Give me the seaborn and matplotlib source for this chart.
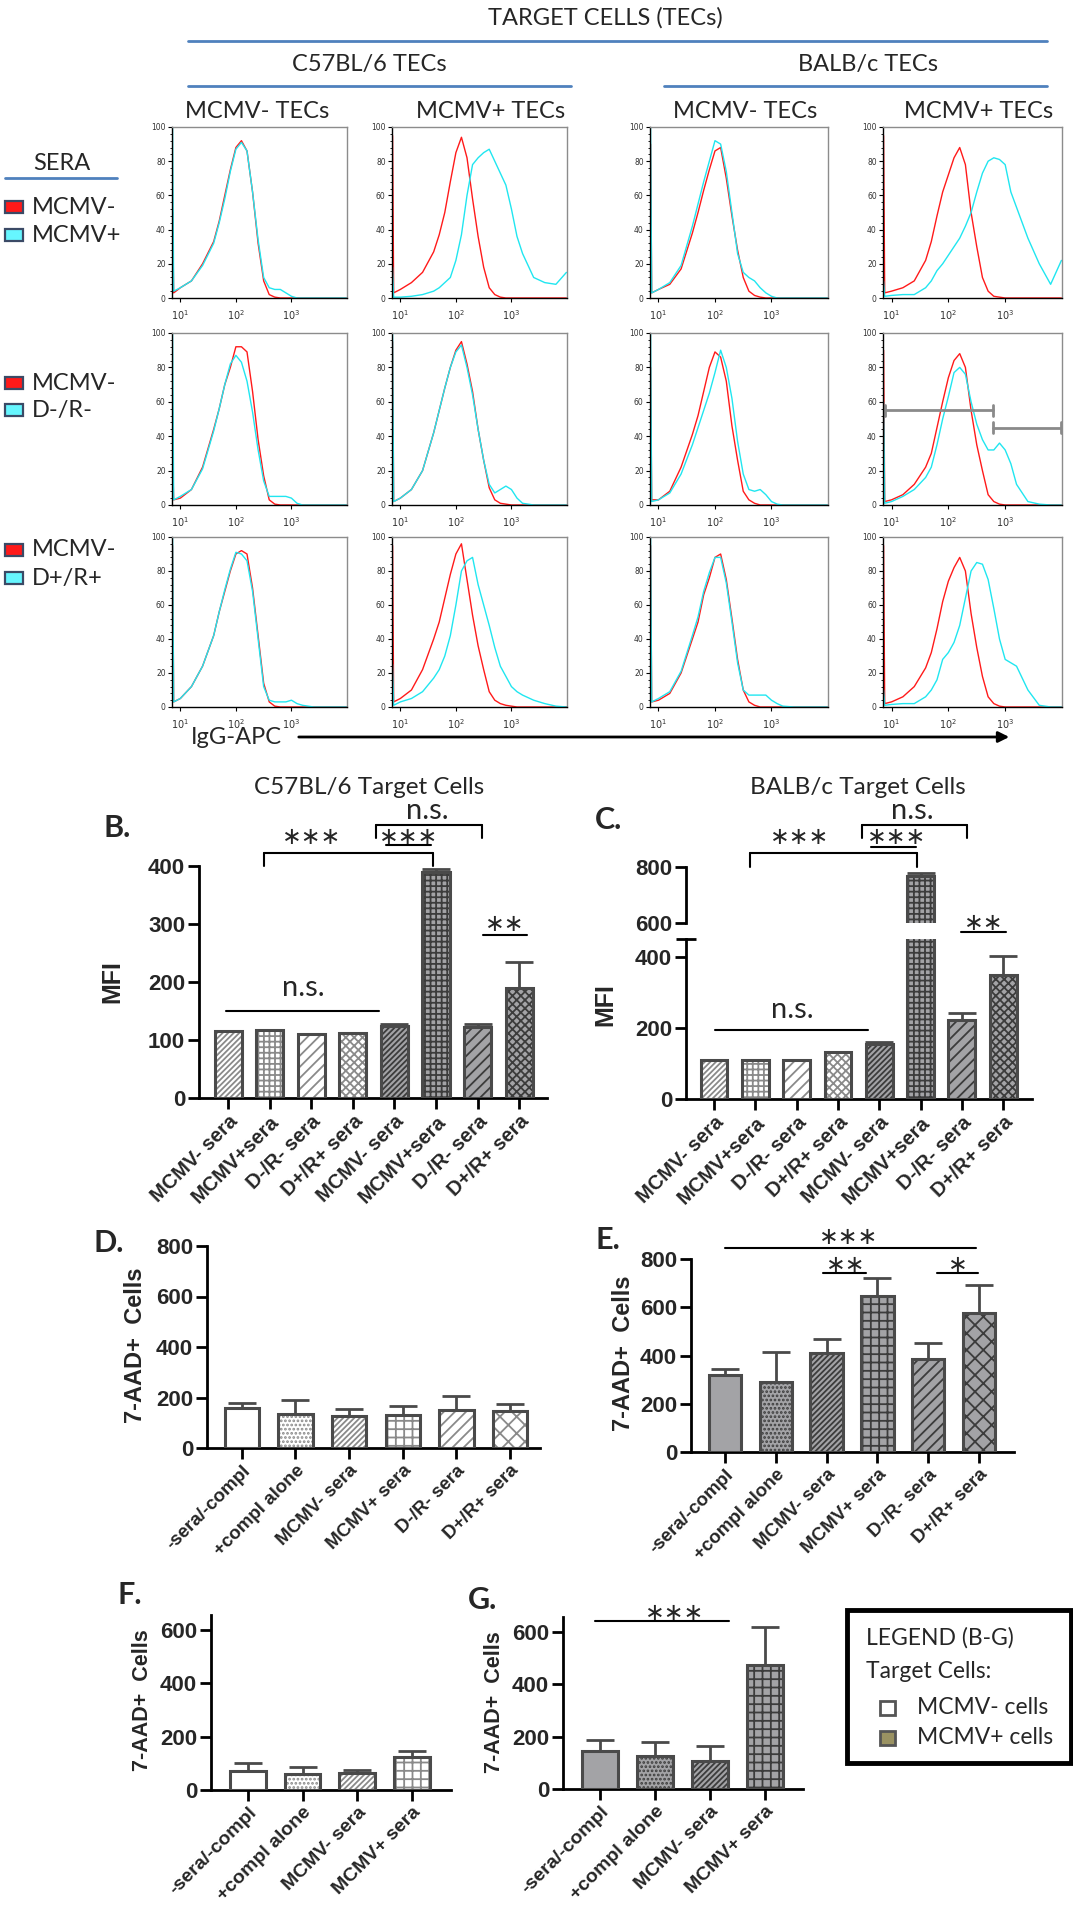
import numpy as np
import pandas as pd
import matplotlib
matplotlib.use('Agg')
import matplotlib.pyplot as plt
import matplotlib.transforms as mtrans
from matplotlib.patches import Rectangle, FancyArrowPatch
from matplotlib.lines import Line2D
from matplotlib.ticker import MultipleLocator, LogLocator, NullFormatter, FixedLocator
import seaborn as sns

# ---------------- data: flow histograms (A) ----------------
# bin positions (log10 of IgG-APC fluorescence)
hist_log = [0.86, 0.88, 1.0, 1.2, 1.4, 1.6, 1.7, 1.8, 1.9, 2.0, 2.1, 2.2, 2.3,
            2.4, 2.5, 2.6, 2.7, 2.8, 2.9, 3.0, 3.1, 3.2, 3.4, 3.6, 3.8, 3.99]

# row 1: MCMV- sera (red) vs MCMV+ sera (cyan)
b6neg_r1_red = [50, 3, 6, 10, 20, 33, 45, 60, 75, 88, 92, 86, 62, 32, 10, 2, 0.5, 0, 0, 0, 0, 0, 0, 0, 0, 0]
b6neg_r1_cyan = [100, 4, 6, 10, 19, 32, 44, 58, 74, 87, 91, 86, 62, 34, 12, 6, 5, 5, 3, 1, 0, 0, 0, 0, 0, 0]
b6pos_r1_red = [95, 3, 5, 9, 15, 27, 37, 50, 68, 85, 94, 82, 58, 36, 18, 6, 2, 0.5, 0, 0, 0, 0, 0, 0, 0, 0]
b6pos_r1_cyan = [18, 0.5, 0.5, 1, 2, 4, 6, 9, 12, 22, 37, 60, 78, 82, 85, 87, 80, 73, 66, 52, 36, 26, 12, 9, 8, 15]
balbneg_r1_red = [90, 3, 5, 8, 17, 38, 50, 63, 75, 86, 88, 70, 48, 28, 12, 4, 1.5, 0.5, 0, 0, 0, 0, 0, 0, 0, 0]
balbneg_r1_cyan = [100, 3, 5, 9, 19, 42, 55, 68, 80, 92, 90, 74, 50, 26, 15, 12, 10, 6, 3, 1, 0, 0, 0, 0, 0, 0]
balbpos_r1_red = [95, 3, 4, 6, 10, 22, 33, 48, 62, 72, 82, 88, 78, 50, 30, 12, 4, 1, 0.5, 0, 0, 0, 0, 0, 0, 0]
balbpos_r1_cyan = [10, 1, 1.5, 2, 2, 6, 10, 16, 20, 25, 30, 35, 42, 50, 62, 73, 80, 82, 81, 78, 62, 53, 35, 20, 8, 22]

# row 2: MCMV- sera (red) vs D-/R- sera (cyan)
b6neg_r2_red = [30, 3, 4, 9, 22, 44, 56, 70, 80, 92, 92, 89, 66, 38, 17, 3, 0.5, 0, 0, 0, 0, 0, 0, 0, 0, 0]
b6neg_r2_cyan = [100, 3, 5, 9, 21, 43, 56, 70, 82, 87, 83, 72, 54, 32, 14, 5, 5, 5, 5, 4, 1, 0, 0, 0, 0, 0]
b6pos_r2_red = [95, 2, 4, 9, 20, 42, 55, 68, 80, 90, 95, 82, 66, 44, 26, 10, 3, 1, 0.5, 0, 0, 0, 0, 0, 0, 0]
b6pos_r2_cyan = [100, 2, 4, 9, 20, 42, 55, 68, 80, 89, 93, 80, 64, 44, 26, 12, 7, 9, 11, 9, 4, 1, 0, 0, 0, 0]
balbneg_r2_red = [80, 3, 3, 8, 22, 41, 52, 66, 80, 89, 86, 72, 46, 26, 8, 3, 1, 0, 0, 0, 0, 0, 0, 0, 0, 0]
balbneg_r2_cyan = [100, 2, 3, 7, 18, 35, 45, 55, 65, 77, 90, 80, 62, 37, 18, 9, 8, 9, 6, 2, 0.5, 0, 0, 0, 0, 0]
balbpos_r2_red = [90, 2, 3, 6, 12, 22, 30, 45, 60, 74, 84, 88, 80, 55, 35, 20, 6, 2, 0.5, 0, 0, 0, 0, 0, 0, 0]
balbpos_r2_cyan = [60, 1, 2, 5, 9, 16, 22, 35, 50, 63, 77, 80, 76, 60, 47, 38, 32, 32, 36, 32, 24, 12, 2, 0.5, 0, 0]

# row 3: MCMV- sera (red) vs D+/R+ sera (cyan)
b6neg_r3_red = [95, 3, 5, 12, 24, 42, 56, 68, 80, 90, 92, 90, 70, 42, 14, 3, 0.5, 0, 0, 0, 0, 0, 0, 0, 0, 0]
b6neg_r3_cyan = [100, 3, 5, 12, 24, 42, 56, 69, 81, 91, 90, 86, 68, 40, 12, 4, 3, 3, 3, 4, 2, 1, 0, 0, 0, 0]
b6pos_r3_red = [95, 3, 5, 10, 22, 40, 50, 64, 78, 90, 96, 75, 54, 36, 22, 9, 4, 2, 1, 0.5, 0, 0, 0, 0, 0, 0]
b6pos_r3_cyan = [25, 1, 3, 5, 9, 17, 22, 30, 42, 60, 80, 86, 88, 72, 60, 48, 35, 24, 18, 12, 9, 7, 4, 2, 0.5, 0]
balbneg_r3_red = [95, 3, 4, 8, 20, 40, 50, 66, 76, 88, 90, 75, 52, 28, 10, 3, 1, 0, 0, 0, 0, 0, 0, 0, 0, 0]
balbneg_r3_cyan = [100, 3, 5, 9, 21, 42, 53, 68, 79, 88, 88, 73, 50, 26, 10, 7, 7, 7, 7, 4, 2, 0.5, 0, 0, 0, 0]
balbpos_r3_red = [95, 2, 3, 6, 12, 23, 32, 46, 62, 74, 82, 88, 80, 55, 35, 18, 6, 2, 0.5, 0, 0, 0, 0, 0, 0, 0]
balbpos_r3_cyan = [10, 1, 1.5, 2, 2, 6, 10, 16, 28, 32, 38, 48, 64, 80, 85, 84, 75, 58, 40, 28, 26, 24, 10, 1, 0, 0]

# marker gates drawn on BALB/c MCMV+ TECs, D-/R- row (log10 x, % of max)
gate_lo = [0.88, 2.78]
gate_hi = [2.78, 3.98]
gate_y = [55, 45]

# ---------------- data: bar charts ----------------
mfi_labels = ['MCMV- sera', 'MCMV+sera', 'D-/R- sera', 'D+/R+ sera',
              'MCMV- sera', 'MCMV+sera', 'D-/R- sera', 'D+/R+ sera']
mfi_cells = ['MCMV-'] * 4 + ['MCMV+'] * 4
b_mfi = [115, 117, 110, 112, 124, 390, 123, 189]
b_top = [115, 117, 110, 112, 127, 395, 128, 234]
c_mfi = [111, 111, 110, 133, 156, 768, 222, 350]
c_top = [111, 111, 110, 133, 161, 778, 241, 402]

kill_labels = ['-sera/-compl', '+compl alone', 'MCMV- sera', 'MCMV+ sera', 'D-/R- sera', 'D+/R+ sera']
d_cells = [159, 136, 127, 132, 151, 145]
d_top = [180, 189, 156, 167, 205, 176]
e_cells = [318, 289, 410, 645, 387, 576]
e_top = [344, 414, 467, 720, 452, 693]

fg_labels = ['-sera/-compl', '+compl alone', 'MCMV- sera', 'MCMV+ sera']
f_cells = [71, 60, 65, 123]
f_top = [102, 87, 75, 148]
g_cells = [147, 127, 108, 472]
g_top = [188, 180, 165, 618]

# ---------------- styling ----------------
sns.set_theme(style='white')
plt.rcParams['font.family'] = ['Lato', 'DejaVu Sans']
plt.rcParams['hatch.linewidth'] = 1.3

W, H = 1073, 1920
fig = plt.figure(figsize=(W / 100, H / 100), dpi=100)
fig.patch.set_facecolor('white')

RED = '#ff1a1a'
CYAN = '#20e6f0'
BLUE = '#4f81bd'
EDGE = '#4a4a4a'
GRAY = '#a3a3a6'
ARIAL = 'Liberation Sans'


def box(l, t, r, b):
    ax = fig.add_axes([l / W, 1 - b / H, (r - l) / W, (b - t) / H])
    ax.patch.set_visible(False)
    return ax


def ftext(x, y, s, **kw):
    kw.setdefault('va', 'center')
    return fig.text(x / W, 1 - y / H, s, **kw)


def fline(x1, x2, y, color='black', lw=2):
    fig.add_artist(Line2D([x1 / W, x2 / W], [1 - y / H, 1 - y / H], color=color, lw=lw,
                          transform=fig.transFigure))


# ---------------- A: headers ----------------
ftext(605, 18, 'TARGET CELLS (TECs)', ha='center', fontsize=17)
fline(188, 1047, 41, BLUE, 2)
ftext(369, 64, 'C57BL/6 TECs', ha='center', fontsize=17)
ftext(868, 64, 'BALB/c TECs', ha='center', fontsize=17)
fline(188, 571, 86, BLUE, 2)
fline(664, 1047, 86, BLUE, 2)
for cx, s in zip([257, 491, 745, 979], ['MCMV- TECs', 'MCMV+ TECs', 'MCMV- TECs', 'MCMV+ TECs']):
    ftext(cx, 111, s, ha='center', fontsize=17)

ftext(62, 163, 'SERA', ha='center', fontsize=17)
fline(5, 117, 178, BLUE, 2)
sera_rows = [('MCMV-', 'MCMV+'), ('MCMV-', 'D-/R-'), ('MCMV-', 'D+/R+')]
sera_y = [(207, 235), (383, 410), (550, 578)]
for (s1, s2), (y1, y2) in zip(sera_rows, sera_y):
    for s, yy, col in [(s1, y1, RED), (s2, y2, '#66f6ff')]:
        fig.add_artist(Rectangle((5 / W, 1 - (yy + 6) / H), 18 / W, 12 / H, transform=fig.transFigure,
                                 facecolor=col, edgecolor='#3b4a66', lw=1.6))
        ftext(32, yy, s, ha='left', fontsize=17)

# ---------------- A: histograms ----------------
hist_x = [10 ** v for v in hist_log]
col_lr = [(172, 347), (392, 567), (650, 828), (883, 1062)]
row_tb = [(127, 298), (333, 505), (537, 707)]
hist_rows = [
    [(b6neg_r1_red, b6neg_r1_cyan), (b6pos_r1_red, b6pos_r1_cyan),
     (balbneg_r1_red, balbneg_r1_cyan), (balbpos_r1_red, balbpos_r1_cyan)],
    [(b6neg_r2_red, b6neg_r2_cyan), (b6pos_r2_red, b6pos_r2_cyan),
     (balbneg_r2_red, balbneg_r2_cyan), (balbpos_r2_red, balbpos_r2_cyan)],
    [(b6neg_r3_red, b6neg_r3_cyan), (b6pos_r3_red, b6pos_r3_cyan),
     (balbneg_r3_red, balbneg_r3_cyan), (balbpos_r3_red, balbpos_r3_cyan)],
]
for ri, (t, b) in enumerate(row_tb):
    for ci, (l, r) in enumerate(col_lr):
        red, cyan = hist_rows[ri][ci]
        ax = box(l, t, r, b)
        ax.set_xscale('log')
        sns.lineplot(x=hist_x, y=red, ax=ax, color=RED, lw=1.0, estimator=None, sort=False)
        sns.lineplot(x=hist_x, y=cyan, ax=ax, color=CYAN, lw=1.0, estimator=None, sort=False)
        if ri == 1 and ci == 3:
            for x0, x1, gy in zip(gate_lo, gate_hi, gate_y):
                ax.plot([10 ** x0, 10 ** x1], [gy, gy], color='#8a8a8a', lw=2)
                ax.plot([10 ** x0, 10 ** x0], [gy - 3, gy + 3], color='#8a8a8a', lw=2)
                ax.plot([10 ** x1, 10 ** x1], [gy - 3, gy + 3], color='#8a8a8a', lw=2)
        ax.set_xlim(10 ** 0.85, 10 ** 4)
        ax.set_ylim(0, 100)
        ax.set_xlabel('')
        ax.set_ylabel('')
        ax.set_xticks([10, 100, 1000])
        ax.set_xticklabels([r'$10^1$', r'$10^2$', r'$10^3$'], fontsize=7, family='DejaVu Sans', color='#333')
        ax.xaxis.set_minor_locator(LogLocator(base=10, subs=np.arange(2, 10)))
        ax.xaxis.set_minor_formatter(NullFormatter())
        ax.set_yticks([0, 20, 40, 60, 80, 100])
        ax.set_yticklabels(['0', '20', '40', '60', '80', '100'], fontsize=5.5, family='DejaVu Sans', color='#333')
        ax.yaxis.set_minor_locator(MultipleLocator(4))
        ax.tick_params(which='major', length=3, width=0.8, pad=1.5, left=True, bottom=True, color='black')
        ax.tick_params(axis='x', which='major', pad=4)
        ax.tick_params(which='minor', length=1.6, width=0.6, left=True, bottom=True, color='black')
        for sp in ['left', 'bottom']:
            ax.spines[sp].set_color('black')
            ax.spines[sp].set_linewidth(1.0)
        for sp in ['top', 'right']:
            ax.spines[sp].set_color('#8c8c8c')
            ax.spines[sp].set_linewidth(1.0)

ftext(191, 738, 'IgG-APC', ha='left', fontsize=17)
fig.add_artist(FancyArrowPatch((296 / W, 1 - 737 / H), (1012 / W, 1 - 737 / H), transform=fig.transFigure,
                               arrowstyle='-|>', mutation_scale=16, lw=2, color='black'))


# ---------------- bar chart helpers ----------------
def bars(ax, keys, vals, tops, fills, hatches, hcols, width=0.65):
    df = pd.DataFrame({'group': keys, 'value': vals})
    sns.barplot(data=df, x='group', y='value', ax=ax, width=width, errorbar=None, color='white',
                order=keys, zorder=2)
    patches = list(ax.patches)
    for p, f, h, hc in zip(patches, fills, hatches, hcols):
        p.set_facecolor(f)
        p.set_hatch(h)
        p.set_edgecolor(hc)
        p.set_linewidth(0)
        ax.add_patch(Rectangle(p.get_xy(), p.get_width(), p.get_height(), fill=False,
                               ec=EDGE, lw=2.2, zorder=3))
    up = np.array(tops) - np.array(vals)
    ax.errorbar(np.arange(len(vals)), vals, yerr=[np.zeros(len(vals)), up], fmt='none',
                ecolor=EDGE, elinewidth=2, capsize=10, capthick=2, zorder=1)


def style_bar_axes(ax, yticks, labels, fs=14):
    ax.set_xlabel('')
    ax.set_ylabel('')
    for sp in ['top', 'right']:
        ax.spines[sp].set_visible(False)
    for sp in ['left', 'bottom']:
        ax.spines[sp].set_color('black')
        ax.spines[sp].set_linewidth(2)
    ax.set_yticks(yticks)
    ax.set_yticklabels([str(v) for v in yticks], fontsize=16, fontweight='bold', family=ARIAL)
    if labels is not None:
        ax.set_xticks(np.arange(len(labels)))
        ax.set_xticklabels(labels, rotation=45, ha='right', rotation_mode='anchor',
                           fontsize=fs, fontweight='bold', family=ARIAL)
    ax.tick_params(which='major', length=8, width=2, pad=2, left=True, bottom=True, color='black')


def bline(ax, x1, x2, y, legs=None, lw=1.5):
    tr = mtrans.blended_transform_factory(ax.transData, fig.transFigure)
    yy = 1 - y / H
    ax.add_line(Line2D([x1, x2], [yy, yy], transform=tr, color='black', lw=lw, clip_on=False))
    if legs is not None:
        yl = 1 - legs / H
        for x in (x1, x2):
            ax.add_line(Line2D([x, x], [yy, yl], transform=tr, color='black', lw=lw, clip_on=False))


def btext(ax, x, y, s, fs=21):
    tr = mtrans.blended_transform_factory(ax.transData, fig.transFigure)
    ax.text(x, 1 - y / H, s, transform=tr, ha='center', va='center', fontsize=fs, clip_on=False,
            zorder=10)


STAR_FS = 17
stars3 = '∗∗∗'
mfi_fills = ['white'] * 4 + [GRAY] * 4
mfi_hatch = ['//////', '+++', '///', 'xxxx', '//////', '+++', '///', 'xxxx']
mfi_hcol = ['#8a8a8a'] * 4 + ['#3c3c3c'] * 4
mfi_keys = [c + '|' + s + str(i) for i, (c, s) in enumerate(zip(mfi_cells, mfi_labels))]

# ---------------- B ----------------
axB = box(199, 866, 547, 1098)
bars(axB, mfi_keys, b_mfi, b_top, mfi_fills, mfi_hatch, mfi_hcol)
axB.set_xlim(-0.7, 7.67)
axB.set_ylim(0, 400)
style_bar_axes(axB, [0, 100, 200, 300, 400], mfi_labels, fs=14.5)
ftext(369, 787, 'C57BL/6 Target Cells', ha='center', fontsize=17.5)
ftext(103, 828, 'B.', ha='left', fontsize=22, fontweight='bold')
ftext(112, 982, 'MFI', ha='center', rotation=90, fontsize=18, fontweight='bold', family=ARIAL)
bline(axB, -0.04, 3.64, 1011)
btext(axB, 1.82, 988, 'n.s.')
bline(axB, 0.87, 4.92, 853, legs=866)
btext(axB, 2.0, 838, stars3, fs=STAR_FS)
bline(axB, 3.55, 6.1, 825, legs=838)
btext(axB, 4.79, 811, 'n.s.')
bline(axB, 3.8, 4.88, 845)
btext(axB, 4.34, 838, stars3, fs=STAR_FS)
bline(axB, 6.12, 7.19, 935)
btext(axB, 6.65, 925, '∗∗', fs=STAR_FS)

# ---------------- C (broken axis) ----------------
axC2 = box(686, 867, 1032, 923)
bars(axC2, mfi_keys, c_mfi, c_top, mfi_fills, mfi_hatch, mfi_hcol)
axC2.set_xlim(-0.68, 7.7)
axC2.set_ylim(600, 800)
style_bar_axes(axC2, [600, 800], None)
axC2.spines['bottom'].set_visible(False)
axC2.set_xticks([])
axC2.tick_params(bottom=False)

axC = box(686, 939, 1032, 1099)
bars(axC, mfi_keys, c_mfi, c_top, mfi_fills, mfi_hatch, mfi_hcol)
axC.set_xlim(-0.68, 7.7)
axC.set_ylim(0, 450)
style_bar_axes(axC, [0, 200, 400], mfi_labels, fs=14.5)
axC.yaxis.set_minor_locator(FixedLocator([450]))
axC.tick_params(which='minor', left=True, length=14, width=2, direction='inout', color='black')

ftext(858, 787, 'BALB/c Target Cells', ha='center', fontsize=17.5)
ftext(595, 820, 'C.', ha='left', fontsize=22, fontweight='bold')
ftext(605, 1005, 'MFI', ha='center', rotation=90, fontsize=18, fontweight='bold', family=ARIAL)
bline(axC, 0.03, 3.73, 1030)
btext(axC, 1.9, 1010, 'n.s.')
bline(axC, 0.87, 4.92, 853, legs=867)
btext(axC, 2.06, 838, stars3, fs=STAR_FS)
bline(axC, 3.58, 6.13, 825, legs=838)
btext(axC, 4.81, 811, 'n.s.')
bline(axC, 3.81, 4.9, 847)
btext(axC, 4.43, 838, stars3, fs=STAR_FS)
bline(axC, 5.98, 7.08, 932)
btext(axC, 6.52, 923, '∗∗', fs=STAR_FS)

# ---------------- D / E ----------------
d_fills = ['white'] * 6
de_hatch = ['', '....', '//////', '++', '///', 'xx']
d_hcol = ['#8a8a8a'] * 6
e_fills = [GRAY] * 6
e_hcol = ['#3c3c3c'] * 6

axD = box(207, 1246, 540, 1448)
bars(axD, kill_labels, d_cells, d_top, d_fills, de_hatch, d_hcol, width=0.64)
axD.set_xlim(-0.65, 5.56)
axD.set_ylim(0, 800)
style_bar_axes(axD, [0, 200, 400, 600, 800], kill_labels, fs=13.5)
ftext(93, 1243, 'D.', ha='left', fontsize=22, fontweight='bold')
ftext(136, 1345, '7-AAD+  Cells', ha='center', rotation=90, fontsize=17, fontweight='bold', family=ARIAL)

axE = box(691, 1259, 1014, 1452)
bars(axE, kill_labels, e_cells, e_top, e_fills, de_hatch, e_hcol, width=0.64)
axE.set_xlim(-0.67, 5.69)
axE.set_ylim(0, 800)
style_bar_axes(axE, [0, 200, 400, 600, 800], kill_labels, fs=13.5)
ftext(595, 1240, 'E.', ha='left', fontsize=22, fontweight='bold')
ftext(623, 1353, '7-AAD+  Cells', ha='center', rotation=90, fontsize=17, fontweight='bold', family=ARIAL)
bline(axE, 0.0, 4.95, 1248)
btext(axE, 2.44, 1237, stars3, fs=STAR_FS)
bline(axE, 1.93, 2.78, 1273)
btext(axE, 2.37, 1265, '∗∗', fs=STAR_FS)
bline(axE, 4.17, 4.99, 1273)
btext(axE, 4.58, 1265, '∗', fs=STAR_FS)

# ---------------- F / G ----------------
fg_hatch = ['', '....', '//////', '++']
axF = box(211, 1615, 451, 1790)
bars(axF, fg_labels, f_cells, f_top, ['white'] * 4, fg_hatch, ['#8a8a8a'] * 4)
axF.set_xlim(-0.67, 3.71)
axF.set_ylim(0, 656)
style_bar_axes(axF, [0, 200, 400, 600], fg_labels, fs=14)
ftext(118, 1595, 'F.', ha='left', fontsize=22, fontweight='bold')
ftext(142, 1700, '7-AAD+  Cells', ha='center', rotation=90, fontsize=15.5, fontweight='bold', family=ARIAL)

axG = box(563, 1617, 803, 1789)
bars(axG, fg_labels, g_cells, g_top, [GRAY] * 4, fg_hatch, ['#3c3c3c'] * 4)
axG.set_xlim(-0.67, 3.69)
axG.set_ylim(0, 657)
style_bar_axes(axG, [0, 200, 400, 600], fg_labels, fs=14)
ftext(468, 1600, 'G.', ha='left', fontsize=22, fontweight='bold')
ftext(495, 1702, '7-AAD+  Cells', ha='center', rotation=90, fontsize=15.5, fontweight='bold', family=ARIAL)
bline(axG, -0.09, 2.35, 1621)
btext(axG, 1.35, 1613, stars3, fs=STAR_FS)

# ---------------- legend box (B-G) ----------------
fig.add_artist(Rectangle((847 / W, 1 - 1763 / H), 224 / W, 153 / H, transform=fig.transFigure,
                         fill=False, ec='black', lw=3.5))
ftext(866, 1638, 'LEGEND (B-G)', ha='left', fontsize=16.5)
ftext(866, 1672, 'Target Cells:', ha='left', fontsize=16.5)
for yy, s, fc in [(1708, 'MCMV- cells', 'white'), (1738, 'MCMV+ cells', '#9a9262')]:
    fig.add_artist(Rectangle((880 / W, 1 - (yy + 7) / H), 15 / W, 14 / H, transform=fig.transFigure,
                             facecolor=fc, edgecolor='#555555', lw=2))
    ftext(917, yy, s, ha='left', fontsize=16.5)

fig.savefig('out.png', dpi=100, facecolor='white')
